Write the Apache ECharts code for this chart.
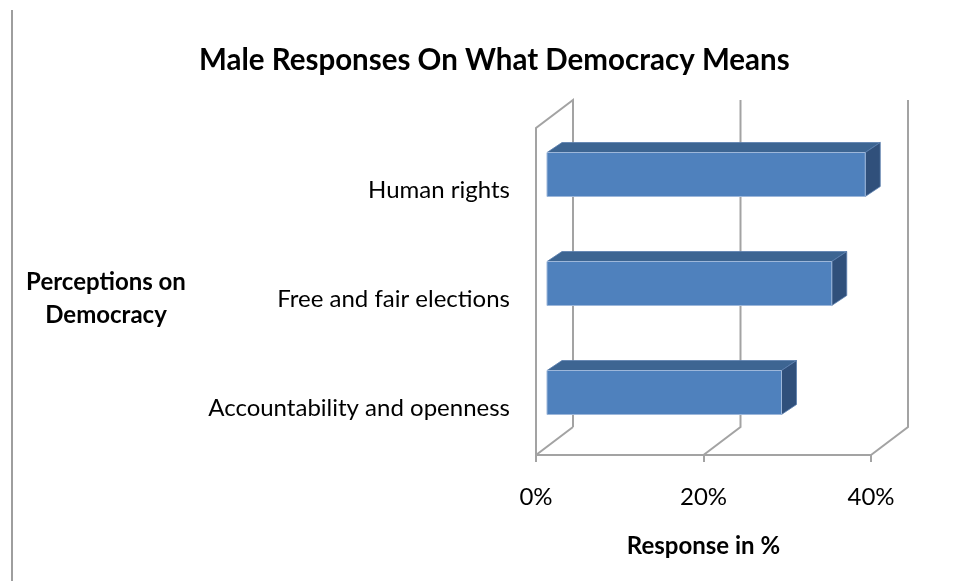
<!DOCTYPE html>
<html><head><meta charset="utf-8">
<script src="https://cdn.jsdelivr.net/npm/echarts@6/dist/echarts.min.js"></script>
<style>html,body{margin:0;padding:0;background:#fff}#c{width:958px;height:581px}</style>
</head><body><div id="c"></div>
<script>
const categories = ['Human rights', 'Free and fair elections', 'Accountability and openness'];
const values = [38, 34, 28];
const tickValues = [0, 20, 40];

const FONT = 'Lato, "Liberation Sans", sans-serif';
const FRAME = '#a3a3a3';
const DX = 37, DY = -28;          // wall depth
const BOX = 11, BOY = -8;         // bar front offset
const BDX = 15, BDY = -10;        // bar depth
const BH = 44;                    // bar front height

const chart = echarts.init(document.getElementById('c'), null, {renderer: 'canvas'});

function frameItem(params, api) {
  const v = api.value(0);
  const cs = params.coordSys;
  const top = cs.y, bottom = cs.y + cs.height;
  const x = api.coord([v, 0])[0];
  const style = {stroke: FRAME, lineWidth: 2, fill: null};
  const pts = [];
  if (v === 0) {
    pts.push([x + DX, bottom + DY], [x, bottom], [x, top], [x + DX, top + DY], [x + DX, bottom + DY]);
  } else {
    pts.push([x, bottom], [x + DX, bottom + DY], [x + DX, top + DY]);
  }
  return {type: 'polyline', shape: {points: pts}, style: style, silent: true};
}

function barItem(params, api) {
  const idx = api.value(1);
  const s = api.coord([0, idx]);
  const e = api.coord([api.value(0), idx]);
  const cy = s[1] + BOY;
  const x0 = s[0] + BOX, x1 = e[0] + BOX;
  const t = cy - BH / 2, b = cy + BH / 2;
  return {
    type: 'group',
    children: [
      {type: 'polygon', shape: {points: [[x0, t], [x0 + BDX, t + BDY], [x1 + BDX, t + BDY], [x1, t]]},
        style: {fill: '#3d6592', stroke: '#5a7fae', lineWidth: 0.8}},
      {type: 'polygon', shape: {points: [[x1, t], [x1 + BDX, t + BDY], [x1 + BDX, b + BDY], [x1, b]]},
        style: {fill: '#30507b', stroke: '#5a7fae', lineWidth: 0.8}},
      {type: 'rect', shape: {x: x0, y: t, width: x1 - x0, height: BH},
        style: {fill: '#4f81bd', stroke: '#9db7da', lineWidth: 1}}
    ]
  };
}

chart.setOption({
  animation: false,
  backgroundColor: '#fff',
  textStyle: {fontFamily: FONT},
  title: {
    text: 'Male Responses On What Democracy Means',
    left: 194, top: 40,
    textStyle: {fontFamily: FONT, fontWeight: 'bold', fontSize: 29.5, color: '#000'}
  },
  graphic: [
    {type: 'line', shape: {x1: 12, y1: 10, x2: 12, y2: 581}, style: {stroke: '#9e9e9e', lineWidth: 2}},
    {type: 'text', x: 106, y: 299, style: {text: 'Perceptions on\nDemocracy', fontFamily: FONT, fontWeight: 'bold',
      fontSize: 24, lineHeight: 33, fill: '#000', align: 'center', verticalAlign: 'middle'}}
  ],
  grid: {left: 536, top: 128, width: 335, height: 327},
  xAxis: {
    type: 'value', min: 0, max: 40, interval: 20,
    name: 'Response in %', nameLocation: 'middle', nameGap: 79,
    nameTextStyle: {fontFamily: FONT, fontWeight: 'bold', fontSize: 24, color: '#000'},
    axisLine: {show: true, lineStyle: {color: FRAME, width: 2}},
    axisTick: {show: true, length: 7, lineStyle: {color: FRAME, width: 2}},
    splitLine: {show: false},
    axisLabel: {formatter: '{value}%', margin: 30, fontFamily: FONT, fontSize: 24, color: '#000'}
  },
  yAxis: {
    type: 'category', inverse: true, data: categories,
    axisLine: {show: false}, axisTick: {show: false}, splitLine: {show: false},
    axisLabel: {
      margin: 26,
      formatter: v => '{a|' + v + '}',
      rich: {a: {fontFamily: FONT, fontSize: 24, color: '#000', padding: [16, 0, 0, 0]}}
    }
  },
  series: [
    {type: 'custom', renderItem: frameItem, data: tickValues.map(v => [v]), z: 1, silent: true},
    {type: 'custom', renderItem: barItem, data: values.map((v, i) => [v, i]), z: 2,
      encode: {x: 0, y: 1}}
  ]
});
</script></body></html>
